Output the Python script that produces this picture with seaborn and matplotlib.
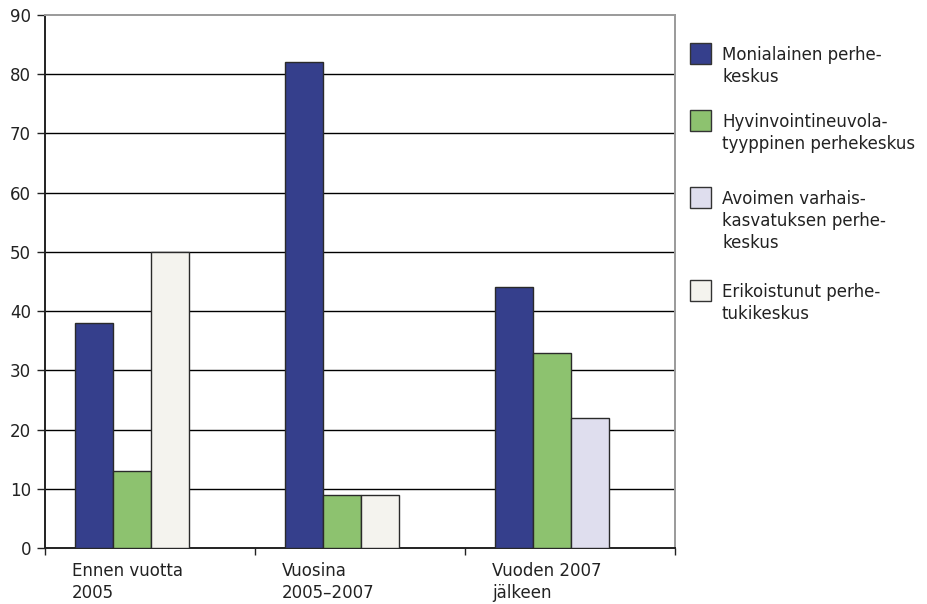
import matplotlib
matplotlib.use("Agg")
import matplotlib.pyplot as plt
import seaborn as sns
import pandas as pd
from matplotlib.patches import Rectangle
from matplotlib.transforms import blended_transform_factory

# Ryhmät (x-akseli) ja sarjat
groups = ["Ennen vuotta\n2005", "Vuosina\n2005–2007", "Vuoden 2007\njälkeen"]
series = [
    "Monialainen perhe-\nkeskus",
    "Hyvinvointineuvola-\ntyyppinen perhekeskus",
    "Avoimen varhais-\nkasvatuksen perhe-\nkeskus",
    "Erikoistunut perhe-\ntukikeskus",
]
colors = ["#353f8c", "#8dc26f", "#dfdeee", "#f4f3ee"]

monialainen = [38, 82, 44]
hyvinvointi = [13, 9, 33]
avoimen = [0, 0, 22]
erikoistunut = [50, 9, 0]
values = [monialainen, hyvinvointi, avoimen, erikoistunut]

# pylväät vain niille sarjoille, joilla on arvo -> 3 paikkaa per ryhmä
rows = []
for gi, g in enumerate(groups):
    slot = 0
    for si, s in enumerate(series):
        v = values[si][gi]
        if v > 0:
            rows.append({"group": g, "gi": gi, "series": si, "value": v, "slot": slot})
            slot += 1
df = pd.DataFrame(rows)

sns.set_style("white")
plt.rcParams['font.family'] = ['DejaVu Sans']

W, H = 928, 604
fig = plt.figure(figsize=(W / 100, H / 100), dpi=100)
ax = fig.add_axes([45 / W, 1 - 548 / H, 630 / W, 533 / H])

width = 0.543
sns.barplot(data=df, x="group", y="value", hue="slot", order=groups,
            hue_order=[0, 1, 2], dodge=True, width=width, gap=0,
            errorbar=None, legend=False, saturation=1, ax=ax, zorder=3)

bw = width / 3
for p in ax.patches:
    cx = p.get_x() + p.get_width() / 2
    gi = int(round(cx))
    slot = int(round((cx - gi) / bw)) + 1
    r = df[(df.gi == gi) & (df.slot == slot)].iloc[0]
    p.set_facecolor(colors[int(r.series)])
    p.set_edgecolor("#2a2a2a")
    p.set_linewidth(1.0)

# akselit
off = 0.414
ax.set_xlim(-off, len(groups) - off)
ax.set_ylim(0, 90)
ax.set_yticks(range(0, 91, 10))
ax.set_xticks([i - off for i in range(len(groups) + 1)], labels=[""] * (len(groups) + 1))
ax.set_xlabel("")
ax.set_ylabel("")
ax.tick_params(axis="y", length=6, width=1, pad=4, labelsize=12, colors="#222222", direction="out", left=True)
ax.tick_params(axis="x", length=5, width=1, direction="out", bottom=True, colors="#222222")
ax.yaxis.grid(True, color="black", lw=1)
ax.set_axisbelow(True)
ax.get_ygridlines()[-1].set_visible(False)
ax.get_ygridlines()[0].set_visible(False)

for side in ["left", "bottom"]:
    ax.spines[side].set_color("#222222")
    ax.spines[side].set_linewidth(1.4)
for side in ["top", "right"]:
    ax.spines[side].set_color("#9a9a9a")
    ax.spines[side].set_linewidth(1.4)
    ax.spines[side].set_visible(True)

# ryhmien nimet, rivi kerrallaan
trans = blended_transform_factory(ax.transData, ax.transAxes)
line_step = 22
for gi, g in enumerate(groups):
    for k, line in enumerate(g.split("\n")):
        ax.annotate(line, xy=(gi - 0.285, 0), xycoords=trans,
                    xytext=(0, -28 - k * line_step), textcoords="offset pixels",
                    ha="left", va="baseline", fontsize=12, color="#222222",
                    annotation_clip=False)

# selite käsin
first_baselines = [60, 127, 204, 297]
for si, s in enumerate(series):
    b = first_baselines[si]
    fig.add_artist(Rectangle((690 / W, 1 - (b + 4) / H), 21 / W, 21 / H,
                             transform=fig.transFigure, facecolor=colors[si],
                             edgecolor="#333333", lw=1))
    for k, line in enumerate(s.split("\n")):
        fig.text(722 / W, 1 - (b + k * line_step) / H, line, ha="left",
                 va="baseline", fontsize=12, color="#222222")

fig.savefig("out.png", dpi=100)
